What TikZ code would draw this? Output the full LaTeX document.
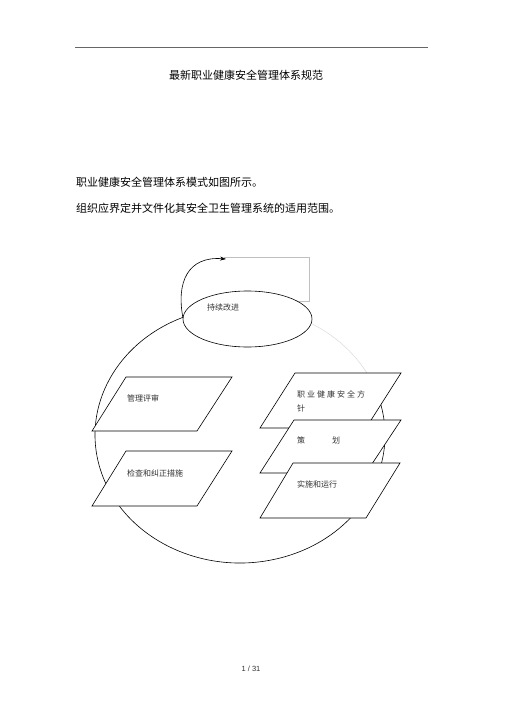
\documentclass[tikz,border=0pt]{standalone}
\usepackage{fontspec}
\newfontfamily\cjk{Noto Sans CJK SC}
\newfontfamily\numfont{Liberation Sans}
\usetikzlibrary{arrows.meta}
\tikzset{
  x=1pt,y=-1pt,
  bodytext/.style={font=\cjk\fontsize{11}{13}\selectfont,inner sep=0pt,anchor=west},
  lbl/.style={font=\cjk\fontsize{8}{10}\selectfont,inner sep=0pt,anchor=west,text=black!80},
  para/.style={draw=black,fill=white,line width=0.6pt,line join=miter},
  thin/.style={line width=0.6pt},
}
\begin{document}
\begin{tikzpicture}
\useasboundingbox (0,0) rectangle (505,714);
\fill[white] (0,0) rectangle (505,714);
% header rule
\coordinate (r1) at (75,47);
\coordinate (r2) at (428,47);
\draw[black!60,line width=0.7pt] (r1) -- (r2);
\node[font=\cjk\fontsize{11}{13}\selectfont,inner sep=0pt] (title) at (246,75) {最新职业健康安全管理体系规范};
\node[bodytext] (l1) at (76,182) {职业健康安全管理体系模式如图所示。};
\node[bodytext] (l2) at (76,208) {组织应界定并文件化其安全卫生管理系统的适用范围。};
% gray box (partial)
\coordinate (g1) at (224,257);
\coordinate (g2) at (309,257);
\coordinate (g3) at (309,301);
\coordinate (g4) at (224,301);
\draw[black!25,line width=0.6pt] (g1) -- (g2) -- (g3) -- (g4);
% big ellipse
\coordinate (bc) at (240,435);
\draw[black!14,line width=0.5pt] (bc) ++(247:145 and 128) arc[start angle=247,end angle=345,x radius=145,y radius=128];
\draw[thin] (bc) ++(-15:145 and 128) arc[start angle=-15,end angle=247,x radius=145,y radius=128];
% right parallelograms
\draw[para] (295,373) -- (401,373) -- (366,428) -- (260,428) -- cycle;
\node[lbl] (policy) at (297,394) {职\hspace{2pt}业\hspace{2pt}健\hspace{2pt}康\hspace{2pt}安\hspace{2pt}全\hspace{2pt}方};
\node[lbl] (policy2) at (297,408) {针};
\draw[para] (294,420) -- (401,420) -- (366,473) -- (260,473) -- cycle;
\node[lbl] (plan) at (297,440) {策\hspace{27pt}划};
\draw[para] (293,463) -- (400,463) -- (366,518) -- (260,518) -- cycle;
\node[lbl] (impl) at (297,484) {实施和运行};
% left parallelograms
\draw[para] (126,377) -- (232,377) -- (197,431) -- (92,431) -- cycle;
\node[lbl] (review) at (127,398) {管理评审};
\draw[para] (126,451) -- (232,451) -- (197,506) -- (92,506) -- cycle;
\node[lbl] (check) at (127,473) {检查和纠正措施};
% small ellipse
\draw[thin,fill=white] (247.5,319) ellipse[x radius=64.5,y radius=28];
\node[lbl] (ci) at (207,307) {持续改进};
\coordinate (as) at (183,318);
\coordinate (ae) at (226,259);
\draw[thin,-{Stealth[length=6pt,width=4pt]}] (as) .. controls (176,282) and (188,256) .. (ae);
% page number
\node[font=\numfont\fontsize{7.5}{9}\selectfont,inner sep=0pt,text=black!80] (pg) at (251,669) {1 / 31};
\end{tikzpicture}
\end{document}
